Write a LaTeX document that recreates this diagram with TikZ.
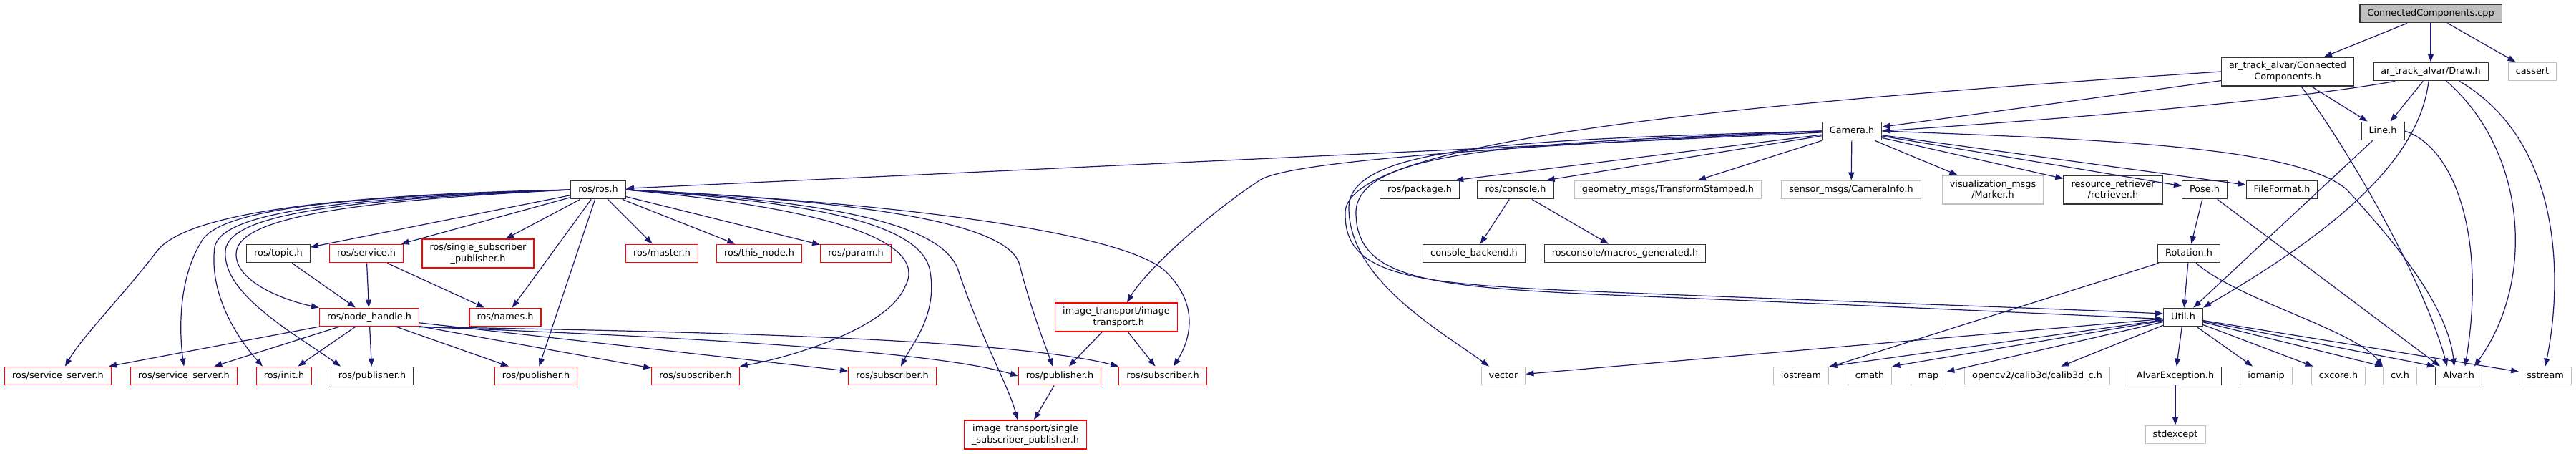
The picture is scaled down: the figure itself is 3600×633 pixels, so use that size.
\documentclass[tikz,border=0pt]{standalone}
\usepackage{fontspec}
\setmainfont{DejaVu Sans}
\usetikzlibrary{arrows.meta}
\definecolor{edgeblue}{HTML}{191970}
\definecolor{extgray}{HTML}{BFBFBF}
\definecolor{truncred}{HTML}{FF0000}

\begin{document}
\begin{tikzpicture}[x=1pt, y=-1pt,
  font=\fontsize{12.8}{15.4}\selectfont,
  box/.style={draw, line width=1.3pt, inner xsep=10.5pt, inner ysep=3pt,
    minimum height=25.5pt, text height=9.5pt, text depth=3pt},
  two/.style={align=center, text height={}, text depth={}, minimum height=40pt},
  hdr/.style={box, draw=black!80},
  ext/.style={box, draw=extgray},
  trunc/.style={box, draw=truncred},
  root/.style={box, draw=black!80, fill=extgray},
  dep/.style={draw=edgeblue, line width=1.2pt, -{Triangle[length=11pt, width=8pt]}}]
  \useasboundingbox (0,0) rectangle (3600,633);

  % top rows
  \node[root] (cc) at (3397,19) {ConnectedComponents.cpp};
  \node[hdr, two] (cch) at (3197,100) {ar\_track\_alvar/Connected\\Components.h};
  \node[hdr] (draw) at (3397,100) {ar\_track\_alvar/Draw.h};
  \node[ext] (cassert) at (3539,100) {cassert};
  \node[hdr] (camera) at (2588,183) {Camera.h};
  \node[hdr] (line) at (3330,183) {Line.h};

  % includes of Camera.h
  \node[hdr] (ros) at (836,265) {ros/ros.h};
  \node[hdr] (package) at (1984,265) {ros/package.h};
  \node[hdr] (console) at (2118,265) {ros/console.h};
  \node[ext] (geom) at (2331,265) {geometry\_msgs/TransformStamped.h};
  \node[ext] (caminfo) at (2587,265) {sensor\_msgs/CameraInfo.h};
  \node[ext, two] (marker) at (2785,265) {visualization\_msgs\\/Marker.h};
  \node[hdr, two] (retriever) at (2953,265) {resource\_retriever\\/retriever.h};
  \node[hdr] (pose) at (3081,265) {Pose.h};
  \node[hdr] (fileformat) at (3189,265) {FileFormat.h};

  \node[hdr] (topic) at (389,354) {ros/topic.h};
  \node[trunc] (service) at (512,354) {ros/service.h};
  \node[trunc, two] (rosssp) at (668,354) {ros/single\_subscriber\\\_publisher.h};
  \node[trunc] (master) at (925,354) {ros/master.h};
  \node[trunc] (thisnode) at (1061,354) {ros/this\_node.h};
  \node[trunc] (param) at (1196,354) {ros/param.h};
  \node[hdr] (backend) at (2060,354) {console\_backend.h};
  \node[hdr] (macros) at (2271,354) {rosconsole/macros\_generated.h};
  \node[hdr] (rotation) at (3059,354) {Rotation.h};

  \node[trunc] (nh) at (516,443) {ros/node\_handle.h};
  \node[trunc] (names) at (706,443) {ros/names.h};
  \node[trunc, two] (itrans) at (1560,443) {image\_transport/image\\\_transport.h};
  \node[hdr] (util) at (3051,443) {Util.h};

  % bottom rows
  \node[trunc] (srv1) at (81,525) {ros/service\_server.h};
  \node[trunc] (srv2) at (257,525) {ros/service\_server.h};
  \node[trunc] (init) at (397,525) {ros/init.h};
  \node[hdr] (pub1) at (520,525) {ros/publisher.h};
  \node[trunc] (pub2) at (749,525) {ros/publisher.h};
  \node[trunc] (sub1) at (972,525) {ros/subscriber.h};
  \node[trunc] (sub2) at (1247,525) {ros/subscriber.h};
  \node[trunc] (pub3) at (1481,525) {ros/publisher.h};
  \node[trunc] (sub3) at (1625,525) {ros/subscriber.h};
  \node[ext] (vector) at (2101,525) {vector};
  \node[ext] (iostream) at (2517,525) {iostream};
  \node[ext] (cmath) at (2613,525) {cmath};
  \node[ext] (map) at (2695,525) {map};
  \node[ext] (calib) at (2847,525) {opencv2/calib3d/calib3d\_c.h};
  \node[hdr] (alvarexc) at (3040,525) {AlvarException.h};
  \node[ext] (iomanip) at (3167,525) {iomanip};
  \node[ext] (cxcore) at (3268,525) {cxcore.h};
  \node[ext] (cv) at (3354,525) {cv.h};
  \node[hdr] (alvar) at (3436,525) {Alvar.h};
  \node[ext] (sstream) at (3557,525) {sstream};

  \node[trunc, two] (itssp) at (1433,607) {image\_transport/single\\\_subscriber\_publisher.h};
  \node[ext] (stdexcept) at (3040,607) {stdexcept};

  % root
  \draw[dep] (cc) -- (cch);
  \draw[dep] (cc) -- (draw);
  \draw[dep] (cc) -- (cassert);

  % ConnectedComponents.h
  \draw[dep] (cch) -- (camera);
  \draw[dep] (cch) -- (line);
  \draw[dep] ([xshift=19pt]cch.south) .. controls (3290,220) and (3390,400) .. ([xshift=17pt]alvar.north west);
  \draw[dep] (cch.west) .. controls (2500,140) and (1870,190) .. (1880,300) .. controls (1880,395) and (2000,398) .. (2300,410) .. controls (2600,422) and (2900,432) .. (util.170);

  % Draw.h
  \draw[dep] ([xshift=-50pt]draw.south) .. controls (3200,140) and (2900,165) .. (camera.east);
  \draw[dep] (draw) -- (line);
  \draw[dep] ([xshift=-3pt]draw.south) .. controls (3380,230) and (3250,330) .. (util.north east);
  \draw[dep] ([xshift=22pt]draw.south) .. controls (3530,210) and (3545,390) .. ([xshift=55pt]alvar.north west);
  \draw[dep] ([xshift=40pt]draw.south) .. controls (3585,200) and (3580,400) .. (sstream.north);

  % Line.h
  \draw[dep] (line) -- (util);
  \draw[dep] (line.east) .. controls (3430,205) and (3475,330) .. ([xshift=42pt]alvar.north west);

  % Camera.h
  \draw[dep] (camera) -- (ros);
  \draw[dep] (camera) -- ([xshift=-6pt]package.north east);
  \draw[dep] (camera) -- ([xshift=-10pt]console.north east);
  \draw[dep] (camera) -- (geom);
  \draw[dep] (camera) -- (caminfo);
  \draw[dep] (camera) -- (marker);
  \draw[dep] (camera) -- (retriever);
  \draw[dep] (camera) -- (pose);
  \draw[dep] (camera) -- (fileformat);
  \draw[dep] (camera.east) .. controls (2950,195) and (3210,205) .. (3280,265) .. controls (3330,320) and (3420,420) .. ([xshift=27pt]alvar.north west);
  \draw[dep] (camera.west) .. controls (2100,205) and (1800,225) .. (1760,252) .. controls (1680,305) and (1600,380) .. ([xshift=15pt]itrans.north);
  \draw[dep] (camera.west) .. controls (2150,195) and (1885,200) .. (1885,290) .. controls (1885,390) and (2010,460) .. ([xshift=-20pt]vector.north);
  \draw[dep] (camera.west) .. controls (2150,200) and (1890,205) .. (1895,300) .. controls (1898,395) and (2010,402) .. (2300,414) .. controls (2600,426) and (2900,440) .. (util.185);

  % ros/ros.h
  \draw[dep] (ros) -- (topic);
  \draw[dep] (ros) -- (service);
  \draw[dep] (ros) -- (rosssp);
  \draw[dep] (ros) -- (master);
  \draw[dep] (ros) -- (thisnode);
  \draw[dep] (ros) -- (param);
  \draw[dep] (ros) -- (names);
  \draw[dep] (ros) -- (pub2);
  \draw[dep] (ros.west) .. controls (450,272) and (260,300) .. (220,350) .. controls (170,415) and (115,470) .. ([xshift=10pt]srv1.north);
  \draw[dep] (ros.west) .. controls (450,275) and (300,295) .. (280,340) .. controls (250,390) and (250,460) .. (srv2.north);
  \draw[dep] (ros.west) .. controls (460,277) and (310,298) .. (300,345) .. controls (292,410) and (330,470) .. ([xshift=-30pt]init.north);
  \draw[dep] (ros.west) .. controls (470,279) and (320,300) .. (315,350) .. controls (310,410) and (410,465) .. ([xshift=-44pt]pub1.north);
  \draw[dep] (ros.west) .. controls (480,281) and (330,305) .. (330,355) .. controls (330,395) and (400,420) .. (nh.north west);
  \draw[dep] (ros.east) .. controls (1150,290) and (1300,335) .. (1265,400) .. controls (1240,460) and (1100,500) .. (sub1.north east);
  \draw[dep] (ros.east) .. controls (1100,280) and (1290,305) .. (1300,380) .. controls (1310,440) and (1275,480) .. ([xshift=12pt]sub2.north);
  \draw[dep] (ros.east) .. controls (1150,280) and (1320,310) .. (1340,380) .. controls (1370,470) and (1410,540) .. ([xshift=-11pt]itssp.north);
  \draw[dep] (ros.east) .. controls (1200,280) and (1410,310) .. (1425,370) .. controls (1440,430) and (1460,480) .. ([xshift=-10pt]pub3.north);
  \draw[dep] (ros.east) .. controls (1300,285) and (1580,330) .. (1630,380) .. controls (1680,430) and (1660,480) .. ([xshift=15pt]sub3.north);

  \draw[dep] (topic) -- (nh);
  \draw[dep] (service) -- (nh);
  \draw[dep] (service) -- (names);

  % ros/node_handle.h
  \draw[dep] (nh) -- (srv1);
  \draw[dep] (nh) -- (srv2);
  \draw[dep] (nh) -- (init);
  \draw[dep] (nh) -- (pub1);
  \draw[dep] (nh) -- (pub2);
  \draw[dep] (nh) -- (sub1);
  \draw[dep] (nh) -- (sub2);
  \draw[dep] (nh.south east) .. controls (900,468) and (1300,488) .. (pub3.west);
  \draw[dep] (nh.south east) .. controls (900,462) and (1400,470) .. (sub3.north west);

  \draw[dep] (itrans) -- (pub3);
  \draw[dep] (itrans) -- (sub3);
  \draw[dep] (pub3) -- (itssp);
  \draw[dep] (console) -- (backend);
  \draw[dep] (console) -- (macros);

  % Pose.h and Rotation.h
  \draw[dep] (pose) -- (rotation);
  \draw[dep] (pose) -- ([xshift=7pt]alvar.north west);
  \draw[dep] (rotation) -- (iostream);
  \draw[dep] (rotation) -- (util);
  \draw[dep] ([xshift=10pt]rotation.south) .. controls (3130,420) and (3290,460) .. (cv.north west);

  % Util.h
  \draw[dep] (util) -- (vector);
  \draw[dep] (util) -- (iostream.north east);
  \draw[dep] (util) -- (cmath.north east);
  \draw[dep] (util) -- (map);
  \draw[dep] (util) -- (calib);
  \draw[dep] (util) -- (alvarexc);
  \draw[dep] (util) -- (iomanip);
  \draw[dep] (util) -- (cxcore);
  \draw[dep] (util) -- (cv.north west);
  \draw[dep] (util) -- (alvar.north west);
  \draw[dep] (util) -- (sstream);
  \draw[dep] (alvarexc) -- (stdexcept);
\end{tikzpicture}
\end{document}
